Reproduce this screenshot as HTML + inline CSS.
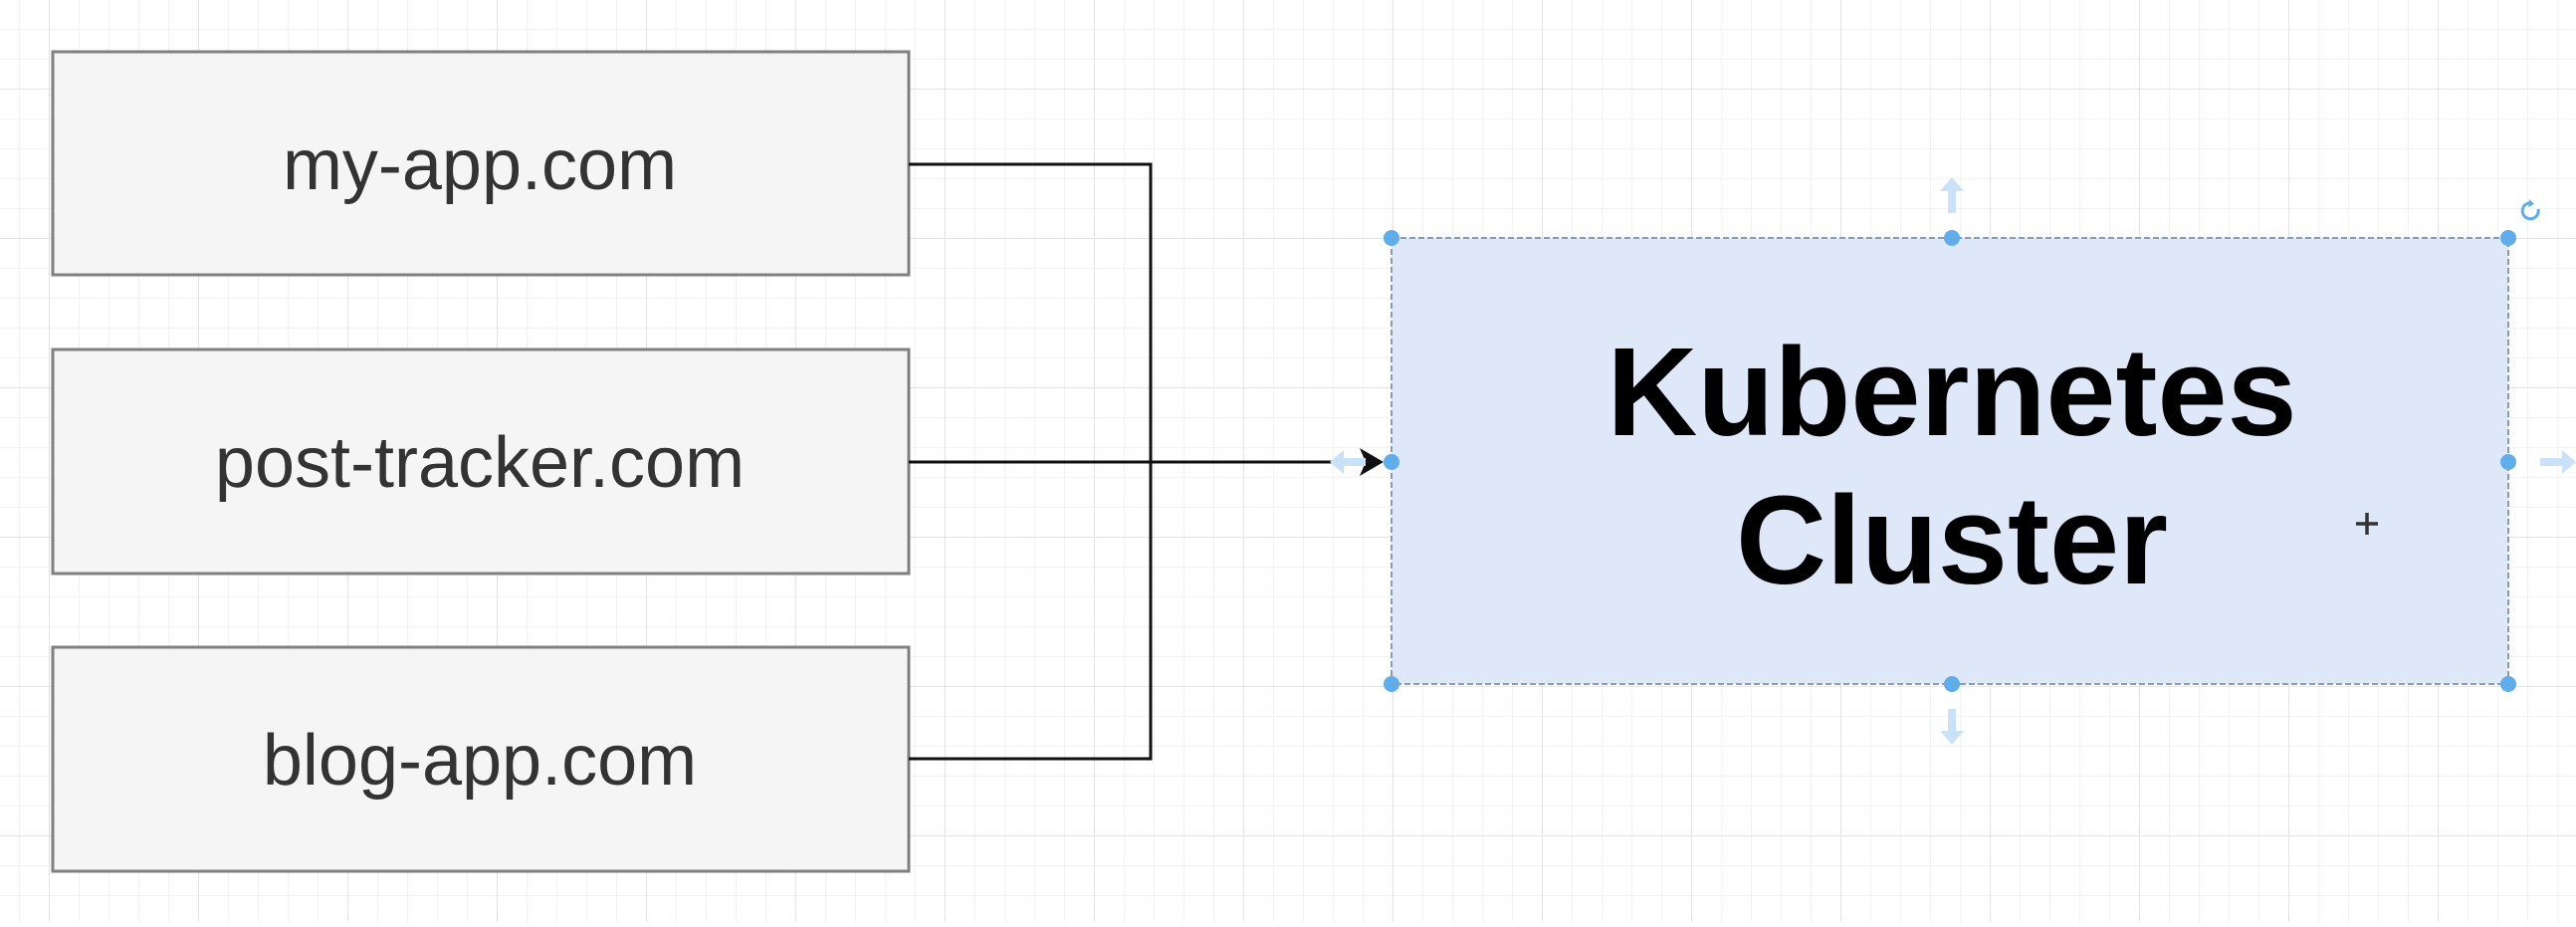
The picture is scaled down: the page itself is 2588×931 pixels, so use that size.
<!DOCTYPE html>
<html><head><meta charset="utf-8"><style>
html,body{margin:0;padding:0;}
body{width:2588px;height:926px;overflow:hidden;background:#fff;}
</style></head><body>
<svg width="2588" height="926" xmlns="http://www.w3.org/2000/svg">
<defs>
<pattern id="minor" x="49" y="89" width="30" height="30" patternUnits="userSpaceOnUse">
<path d="M0 0H30M0 0V30" stroke="#f3f3f3" stroke-width="2" fill="none"/>
</pattern>
<pattern id="major" x="49" y="89" width="150" height="150" patternUnits="userSpaceOnUse">
<path d="M0 0H150M0 0V150" stroke="#e3e3e3" stroke-width="2" fill="none"/>
</pattern>
</defs>
<rect width="2588" height="926" fill="url(#minor)"/>
<rect width="2588" height="926" fill="url(#major)"/>

<g fill="#f5f5f5" stroke="#808080" stroke-width="3">
<rect x="53" y="52" width="860" height="224"/>
<rect x="53" y="351" width="860" height="225"/>
<rect x="53" y="650" width="860" height="225"/>
</g>
<g font-family="Liberation Sans, sans-serif" font-size="72" fill="#333" text-anchor="middle">
<text x="482" y="190">my-app.com</text>
<text x="482" y="489">post-tracker.com</text>
<text x="482" y="788">blog-app.com</text>
</g>

<g stroke="#111" stroke-width="3" fill="none">
<path d="M913 165H1156V762H913"/>
<path d="M913 464H1380"/>
</g>
<path d="M1366 450L1390 464L1366 478L1372 464Z" fill="#111"/>

<rect x="1398" y="239" width="1122" height="448" fill="#dfe8f8" stroke="#8a9bb5" stroke-width="2" stroke-dasharray="6 3"/>
<g font-family="Liberation Sans, sans-serif" font-size="126" font-weight="bold" fill="#000" text-anchor="middle">
<text x="1961" y="437">Kubernetes</text>
<text x="1961" y="586">Cluster</text>
</g>

<g fill="#c9e2f7">
<path d="M1961 178l-12 14h8v22h8v-22h8z"/>
<path d="M1961 748l-12 -14h8v-22h8v22h8z"/>
<path d="M2588 464l-14 -12v8h-22v8h22v8z"/>
<path d="M1336 464l14 -12v8h22v8h-22v8z"/>
</g>
<g fill="#5fadea">
<circle cx="1398" cy="239" r="8"/><circle cx="1961" cy="239" r="8"/><circle cx="2520" cy="239" r="8"/>
<circle cx="1398" cy="464" r="8"/><circle cx="2520" cy="464" r="8"/>
<circle cx="1398" cy="687" r="8"/><circle cx="1961" cy="687" r="8"/><circle cx="2520" cy="687" r="8"/>
</g>
<path d="M2550 210a8 8 0 1 1 -6 -6" stroke="#5fadea" stroke-width="3" fill="none"/>
<path d="M2541 200l5 5l-6 3z" fill="#5fadea"/>
<g stroke="#333" stroke-width="3.5">
<path d="M2378 515v22M2367 526h22"/>
</g>
</svg>
</body></html>
